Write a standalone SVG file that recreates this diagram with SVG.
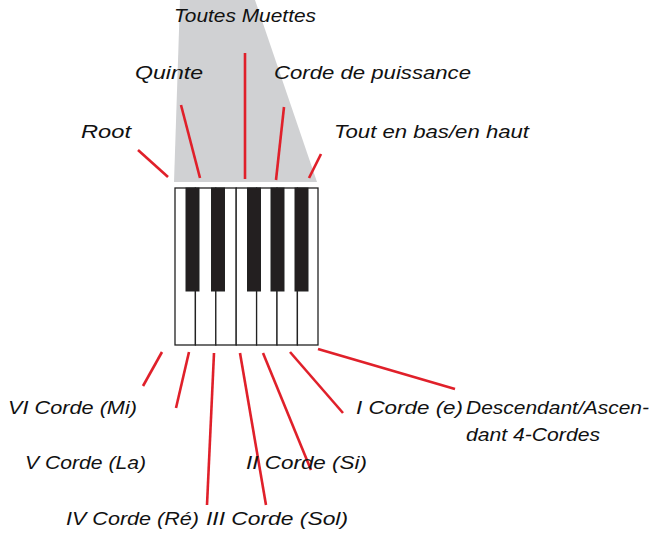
<svg xmlns="http://www.w3.org/2000/svg" width="653" height="542" viewBox="0 0 653 542">
<style>
text{font-family:"Liberation Sans",Arial,sans-serif;font-style:italic;font-size:19px;fill:#111}
.r{stroke:#e0202a;stroke-width:2.6;fill:none}
.w{fill:#fff;stroke:#222;stroke-width:1.3}
.b{fill:#231f20;stroke:#222;stroke-width:1}
</style>
<rect width="653" height="542" fill="#fff"/>
<polygon points="180,0 255,0 317,182 174,182" fill="#d0d1d3"/>
<g id="keyboard">
<rect class="w" x="175" y="188" width="20.4" height="157"/>
<rect class="w" x="195.4" y="188" width="20.4" height="157"/>
<rect class="w" x="215.8" y="188" width="20.4" height="157"/>
<rect class="w" x="236.2" y="188" width="20.4" height="157"/>
<rect class="w" x="256.6" y="188" width="20.4" height="157"/>
<rect class="w" x="277" y="188" width="20.4" height="157"/>
<rect class="w" x="297.4" y="188" width="20.6" height="157"/>
<rect class="b" x="186" y="188" width="13" height="103"/>
<rect class="b" x="211.5" y="188" width="13" height="103"/>
<rect class="b" x="247.5" y="188" width="13" height="103"/>
<rect class="b" x="271" y="188" width="13" height="103"/>
<rect class="b" x="295" y="188" width="13" height="103"/>
</g>
<g id="connectors">
<line class="r" x1="138" y1="150" x2="168" y2="177"/>
<line class="r" x1="181" y1="105" x2="200" y2="178"/>
<line class="r" x1="245" y1="53" x2="245" y2="179"/>
<line class="r" x1="284" y1="107" x2="276" y2="180"/>
<line class="r" x1="321" y1="154" x2="309" y2="178"/>
<line class="r" x1="162" y1="352" x2="143" y2="386"/>
<line class="r" x1="189" y1="352" x2="176" y2="408"/>
<line class="r" x1="214" y1="353" x2="207" y2="505"/>
<line class="r" x1="240" y1="353" x2="266" y2="505"/>
<line class="r" x1="263" y1="353" x2="311" y2="470"/>
<line class="r" x1="290" y1="352" x2="343" y2="413"/>
<line class="r" x1="318" y1="349" x2="455" y2="389"/>
</g>
<g id="labels">
<text x="174" y="22" textLength="142" lengthAdjust="spacingAndGlyphs">Toutes Muettes</text>
<text x="135" y="79" textLength="68" lengthAdjust="spacingAndGlyphs">Quinte</text>
<text x="274" y="79" textLength="197" lengthAdjust="spacingAndGlyphs">Corde de puissance</text>
<text x="81" y="138" textLength="50" lengthAdjust="spacingAndGlyphs">Root</text>
<text x="334" y="138" textLength="195" lengthAdjust="spacingAndGlyphs">Tout en bas/en haut</text>
<text x="8" y="414" textLength="129" lengthAdjust="spacingAndGlyphs">VI Corde (Mi)</text>
<text x="25" y="469" textLength="121" lengthAdjust="spacingAndGlyphs">V Corde (La)</text>
<text x="66" y="525" textLength="133" lengthAdjust="spacingAndGlyphs">IV Corde (Ré)</text>
<text x="206" y="525" textLength="142" lengthAdjust="spacingAndGlyphs">III Corde (Sol)</text>
<text x="246" y="469" textLength="121" lengthAdjust="spacingAndGlyphs">II Corde (Si)</text>
<text x="356" y="414" textLength="107" lengthAdjust="spacingAndGlyphs">I Corde (e)</text>
<text x="466" y="414" textLength="183" lengthAdjust="spacingAndGlyphs">Descendant/Ascen-</text>
<text x="466" y="441" textLength="134" lengthAdjust="spacingAndGlyphs">dant 4-Cordes</text>
</g>
</svg>
